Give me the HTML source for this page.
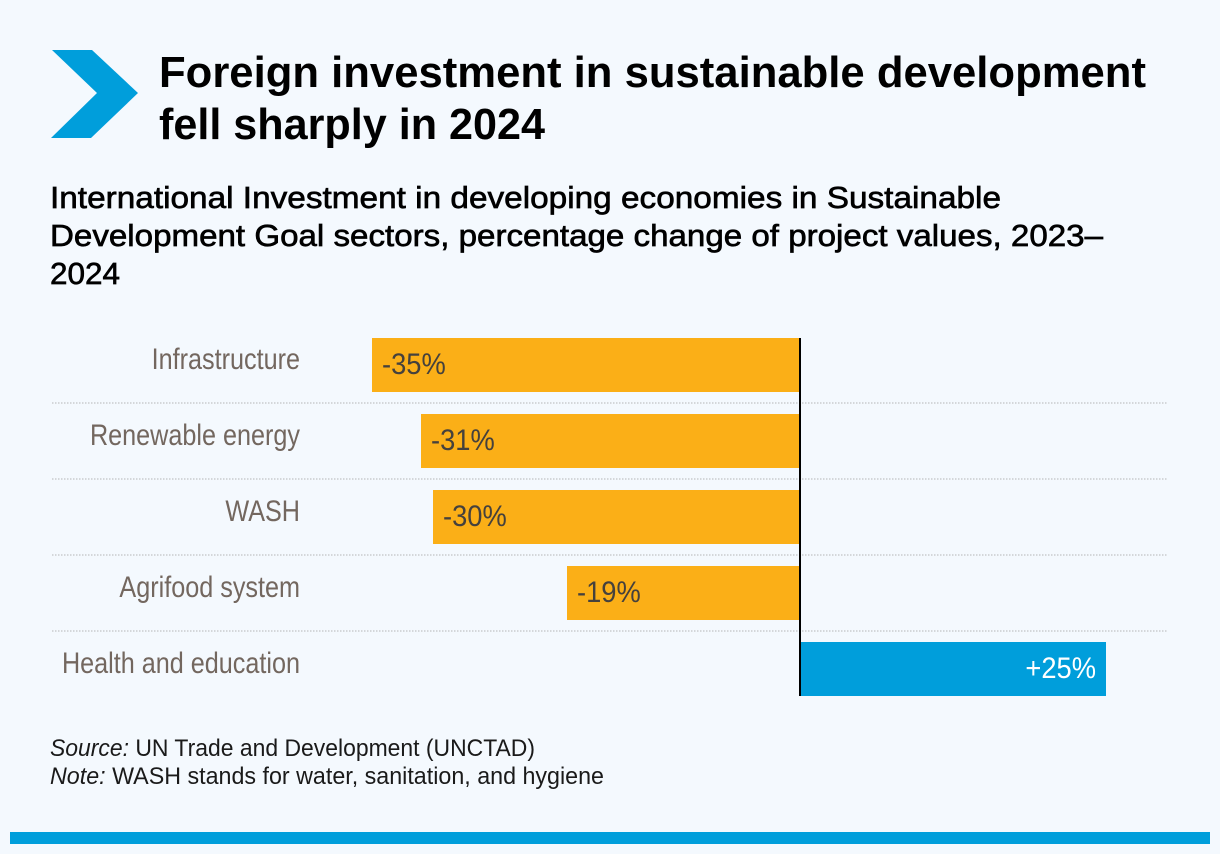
<!DOCTYPE html>
<html lang="en">
<head>
<meta charset="utf-8">
<title>Foreign investment in sustainable development fell sharply in 2024</title>
<style>
html,body{margin:0;padding:0;background:#f4f9fe;}
svg{display:block;font-family:"Liberation Sans",Arial,sans-serif;}
.head{font-weight:700;font-size:44px;fill:#000;}
.sub{font-size:31px;fill:#000;stroke:#000;stroke-width:.65px;}
.foot{font-size:24px;fill:#1a1a1a;}
</style>
</head>
<body>
<svg id="chart" xmlns="http://www.w3.org/2000/svg" width="1220" height="854" viewBox="0 0 1220 854">
  <rect x="0" y="0" width="1220" height="854" fill="#f4f9fe"/>
  <polygon points="52,50 92,50 138,93 91,138 51,138 97,93" fill="#009edb"/>
  <text class="head" x="159" y="87" textLength="987" lengthAdjust="spacingAndGlyphs">Foreign investment in sustainable development</text>
  <text class="head" x="159" y="139" textLength="386" lengthAdjust="spacingAndGlyphs">fell sharply in 2024</text>
  <text class="sub" x="50" y="208" textLength="951" lengthAdjust="spacingAndGlyphs">International Investment in developing economies in Sustainable</text>
  <text class="sub" x="50" y="246" textLength="1053" lengthAdjust="spacingAndGlyphs">Development Goal sectors, percentage change of project values, 2023–</text>
  <text class="sub" x="50" y="284" textLength="70" lengthAdjust="spacingAndGlyphs">2024</text>
  <g id="plot"></g>
  <text class="foot" x="50" y="756" textLength="485" lengthAdjust="spacingAndGlyphs"><tspan font-style="italic">Source:</tspan> UN Trade and Development (UNCTAD)</text>
  <text class="foot" x="50" y="784" textLength="554" lengthAdjust="spacingAndGlyphs"><tspan font-style="italic">Note:</tspan> WASH stands for water, sanitation, and hygiene</text>
  <rect x="10" y="832" width="1200" height="12" fill="#009edb"/>
</svg>
<script>
const categories = ["Infrastructure", "Renewable energy", "WASH", "Agrifood system", "Health and education"];
const changeValues = [-35, -31, -30, -19, 25];
const valueLabels = ["-35%", "-31%", "-30%", "-19%", "+25%"];

const NS = "http://www.w3.org/2000/svg";
const plot = document.getElementById("plot");
const zeroX = 800;
const unitsToPx = 12.24;
const rowTop = 338;
const rowStep = 76;
const barHeight = 54;
const xScale = function (v) { return zeroX + v * unitsToPx; };
const yScale = function (i) { return rowTop + i * rowStep; };

function makeText(x, y, str, anchor, fill, sx) {
  const t = document.createElementNS(NS, "text");
  t.setAttribute("transform", "translate(" + x + "," + y + ") scale(" + sx + ",1)");
  t.setAttribute("text-anchor", anchor);
  t.setAttribute("font-size", "30");
  t.setAttribute("fill", fill);
  t.textContent = str;
  return t;
}

categories.forEach(function (name, i) {
  const v = changeValues[i];
  const x0 = Math.round(xScale(Math.min(v, 0)));
  const x1 = Math.round(xScale(Math.max(v, 0)));
  const y = yScale(i);

  const bar = document.createElementNS(NS, "rect");
  bar.setAttribute("x", x0);
  bar.setAttribute("y", y);
  bar.setAttribute("width", x1 - x0);
  bar.setAttribute("height", barHeight);
  bar.setAttribute("fill", v < 0 ? "#fbaf17" : "#009edb");
  
  
  plot.appendChild(bar);

  const label = makeText(300, y + 31, name, "end", "#73675f", 0.84);
  
  
  plot.appendChild(label);

  const value = v < 0
    ? makeText(x0 + 10, y + 36, valueLabels[i], "start", "#45413d", 0.91)
    : makeText(x1 - 10, y + 36, valueLabels[i], "end", "#ffffff", 0.91);
  
  
  plot.appendChild(value);

  if (i < categories.length - 1) {
    const sep = document.createElementNS(NS, "line");
    sep.setAttribute("x1", 52);
    sep.setAttribute("x2", 1168);
    sep.setAttribute("y1", y + 65);
    sep.setAttribute("y2", y + 65);
    sep.setAttribute("stroke", "#c9cccd");
    sep.setAttribute("stroke-width", "1.5");
    sep.setAttribute("stroke-dasharray", "1.5 1.5");
    
    
    plot.appendChild(sep);
  }
});

const axis = document.createElementNS(NS, "line");
axis.setAttribute("x1", zeroX);
axis.setAttribute("x2", zeroX);
axis.setAttribute("y1", rowTop);
axis.setAttribute("y2", yScale(categories.length - 1) + barHeight);
axis.setAttribute("stroke", "#000");
axis.setAttribute("stroke-width", "2");


plot.appendChild(axis);
</script>
</body>
</html>
